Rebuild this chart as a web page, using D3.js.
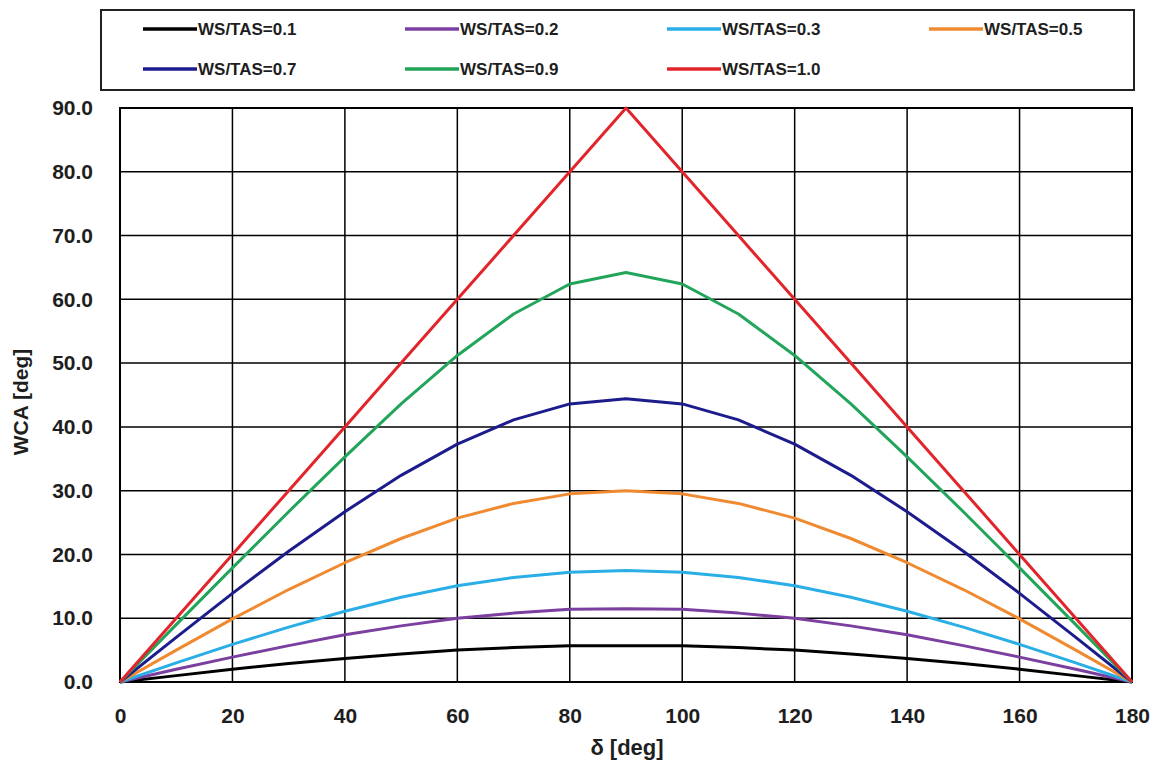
<!DOCTYPE html>
<html lang="en">
<head>
    <meta charset="UTF-8">
    <title>WCA vs delta</title>
    <style>
        body{ margin:0; background:#fff; }
        svg{ display:block; }
        text{ font-family: "Liberation Sans", Arial, sans-serif; font-weight: bold; fill:#1e1e1e; }
    </style>
    <script src="https://cdn.jsdelivr.net/npm/d3@7"></script>
</head>
<body>
<svg id="svg_main"></svg>
<script>
    // x values (delta, deg)
    const delta = [0,10,20,30,40,50,60,70,80,90,100,110,120,130,140,150,160,170,180];
    // WCA values, one array per WS/TAS ratio
    const ws01 = [0,1.0,2.0,2.9,3.7,4.4,5.0,5.4,5.7,5.7,5.7,5.4,5.0,4.4,3.7,2.9,2.0,1.0,0];
    const ws02 = [0,2.0,3.9,5.7,7.4,8.8,10.0,10.8,11.4,11.5,11.4,10.8,10.0,8.8,7.4,5.7,3.9,2.0,0];
    const ws03 = [0,3.0,5.9,8.6,11.1,13.3,15.1,16.4,17.2,17.5,17.2,16.4,15.1,13.3,11.1,8.6,5.9,3.0,0];
    const ws05 = [0,5.0,9.9,14.5,18.7,22.5,25.7,28.0,29.5,30.0,29.5,28.0,25.7,22.5,18.7,14.5,9.9,5.0,0];
    const ws07 = [0,7.0,13.9,20.5,26.7,32.4,37.3,41.1,43.6,44.4,43.6,41.1,37.3,32.4,26.7,20.5,13.9,7.0,0];
    const ws09 = [0,9.0,17.9,26.7,35.3,43.6,51.2,57.7,62.4,64.2,62.4,57.7,51.2,43.6,35.3,26.7,17.9,9.0,0];
    const ws10 = [0,10,20,30,40,50,60,70,80,90,80,70,60,50,40,30,20,10,0];

    const seriesNames = ["WS/TAS=0.1","WS/TAS=0.2","WS/TAS=0.3","WS/TAS=0.5","WS/TAS=0.7","WS/TAS=0.9","WS/TAS=1.0"];
    const seriesValues = [ws01, ws02, ws03, ws05, ws07, ws09, ws10];
    const seriesColors = ["#000000","#7b3fa0","#2aaee6","#f08a30","#1c1c8c","#22a55a","#e2242b"];

    const xTicks = d3.range(0, 181, 20);
    const yTicks = d3.range(0, 91, 10);

    const width = 1161, height = 761;
    const plot = {left:120, right:1132, top:108, bottom:682};

    const svg = d3.select('#svg_main').attr('width', width).attr('height', height);

    const xScale = d3.scaleLinear().domain([0,180]).range([plot.left, plot.right]);
    const yScale = d3.scaleLinear().domain([0,90]).range([plot.bottom, plot.top]);

    // grid
    const grid = svg.append('g');
    grid.selectAll('line.v').data(xTicks).enter().append('line')
        .attr('x1', d=>xScale(d)).attr('x2', d=>xScale(d))
        .attr('y1', plot.top).attr('y2', plot.bottom)
        .attr('stroke', '#000').attr('stroke-width', 1.5);
    grid.selectAll('line.h').data(yTicks).enter().append('line')
        .attr('x1', plot.left).attr('x2', plot.right)
        .attr('y1', d=>yScale(d)).attr('y2', d=>yScale(d))
        .attr('stroke', '#000').attr('stroke-width', 1.5);
    svg.append('rect')
        .attr('x', plot.left).attr('y', plot.top)
        .attr('width', plot.right-plot.left).attr('height', plot.bottom-plot.top)
        .attr('fill', 'none').attr('stroke', '#000').attr('stroke-width', 2);

    // tick labels via d3 axes, axis lines hidden
    const xAxis = svg.append('g').attr('transform', `translate(0,${plot.bottom})`)
        .call(d3.axisBottom(xScale).tickValues(xTicks).tickSize(0).tickPadding(26));
    const yAxis = svg.append('g').attr('transform', `translate(${plot.left},0)`)
        .call(d3.axisLeft(yScale).tickValues(yTicks).tickFormat(d3.format('.1f')).tickSize(0).tickPadding(27));
    [xAxis, yAxis].forEach(a=>{
        a.select('.domain').remove();
        a.selectAll('text').attr('font-size', 21).attr('font-family', '"Liberation Sans", Arial, sans-serif')
            .attr('font-weight', 'bold').attr('fill', '#1e1e1e');
    });

    // axis titles
    svg.append('text').attr('x', 627).attr('y', 755).attr('text-anchor', 'middle')
        .attr('font-size', 22).text('δ [deg]');
    svg.append('text').attr('transform', 'translate(28,402) rotate(-90)').attr('text-anchor', 'middle')
        .attr('font-size', 21).text('WCA [deg]');

    // lines
    const line = d3.line().x((d,i)=>xScale(delta[i])).y(d=>yScale(d));
    svg.append('g').selectAll('path').data(seriesValues).enter().append('path')
        .attr('d', line)
        .attr('fill', 'none')
        .attr('stroke', (d,i)=>seriesColors[i])
        .attr('stroke-width', 3)
        .attr('stroke-linejoin', 'round');

    // legend
    const legend = svg.append('g');
    legend.append('rect').attr('x', 101).attr('y', 10).attr('width', 1033).attr('height', 80)
        .attr('fill', '#fff').attr('stroke', '#222').attr('stroke-width', 2);
    const items = legend.selectAll('g.item').data(seriesNames).enter().append('g')
        .attr('transform', (d,i)=>`translate(${143 + (i%4)*262},${i<4 ? 29 : 69})`);
    items.append('line').attr('x1', 0).attr('x2', 54).attr('y1', 0).attr('y2', 0)
        .attr('stroke', (d,i)=>seriesColors[i]).attr('stroke-width', 3.5);
    items.append('text').attr('x', 55).attr('y', 6).attr('font-size', 17).text(d=>d);
</script>
</body>
</html>
